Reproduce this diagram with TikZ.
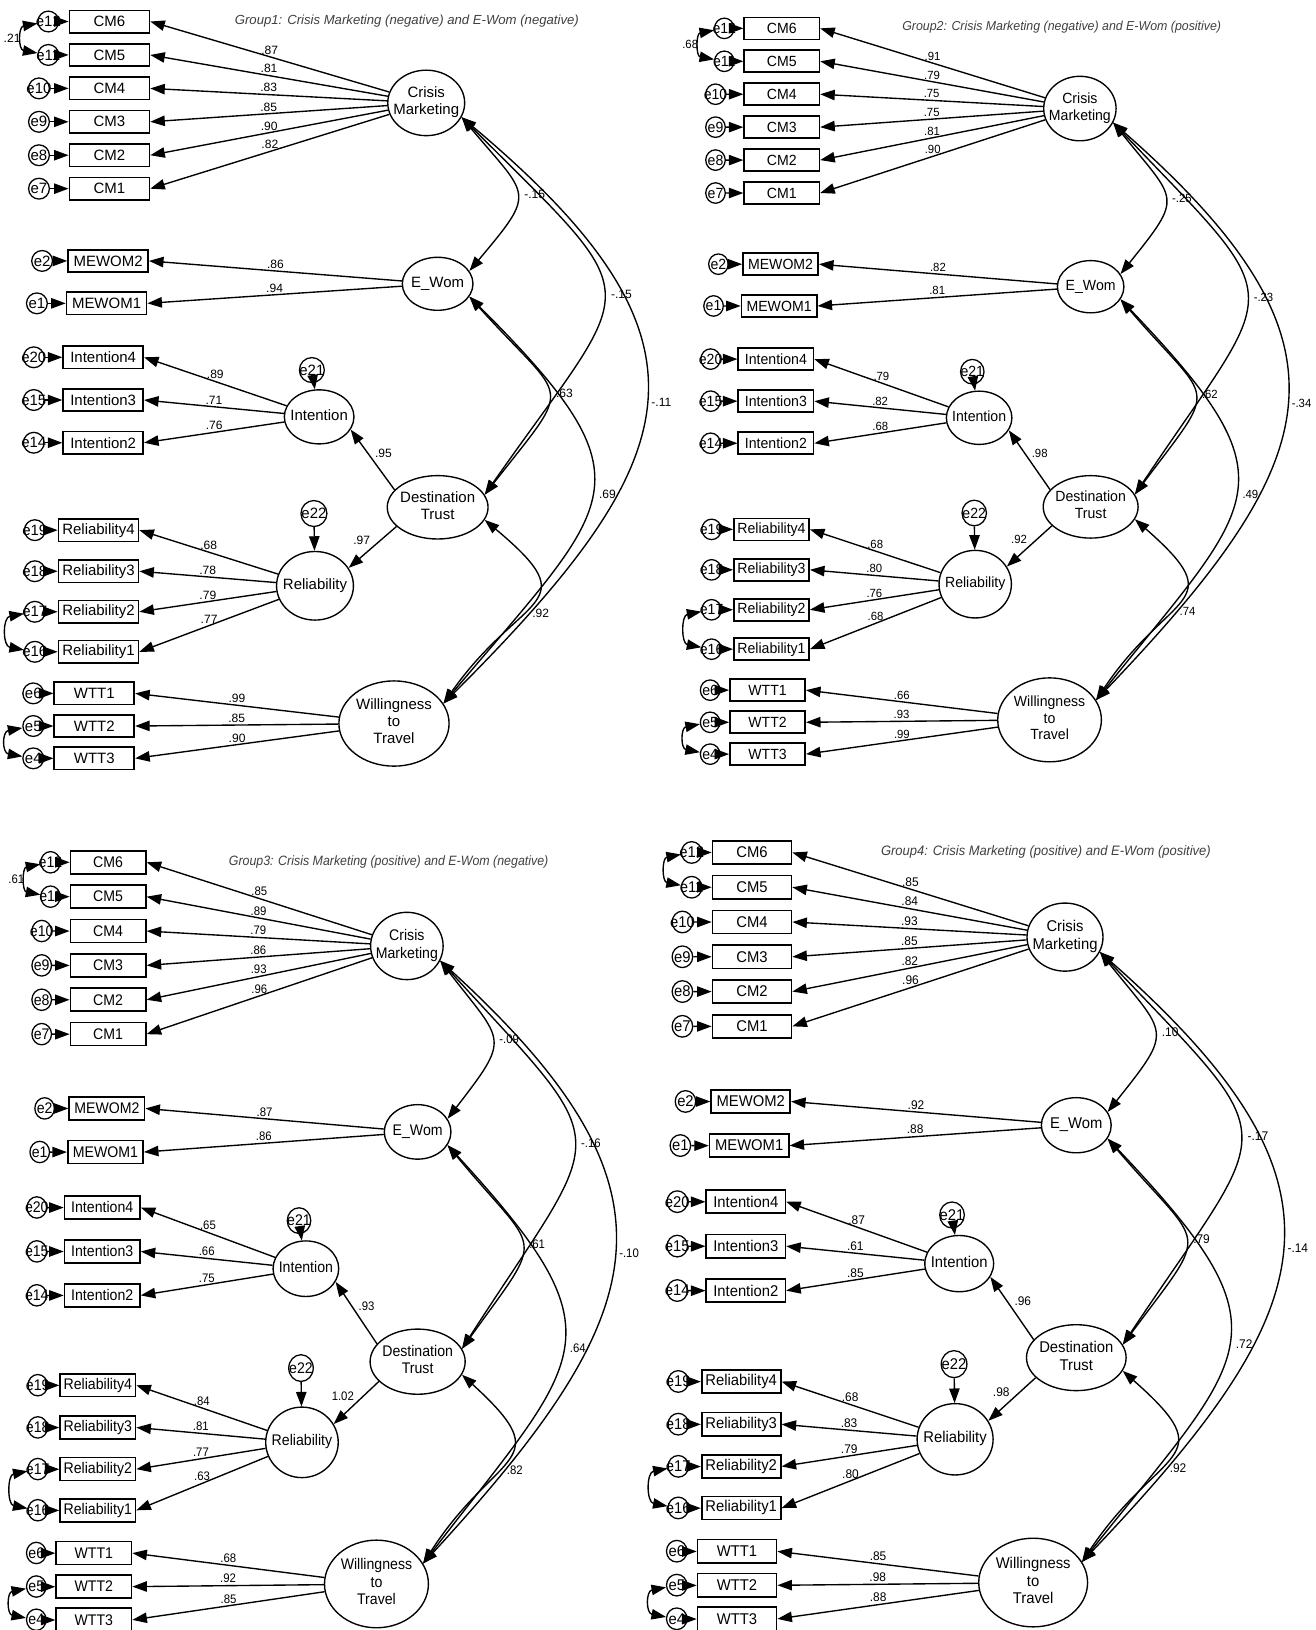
\documentclass[tikz,border=0pt]{standalone}
\usepackage{fontspec}
\setmainfont{Liberation Sans}
\usetikzlibrary{calc}
\usetikzlibrary{arrows.meta}
\usetikzlibrary{shapes.geometric}

\tikzset{
  obs/.style={draw, rectangle, line width=.9pt, minimum width=1.54cm, minimum height=.43cm, inner sep=1pt, font=\fontsize{8.2}{9.3}\selectfont},
  lat/.style={draw, ellipse, line width=.75pt, inner sep=0pt, font=\fontsize{8.2}{9.3}\selectfont},
  err/.style={draw, circle, line width=.7pt, inner sep=0pt, minimum size=.4cm, font=\fontsize{8.2}{9.3}\selectfont},
  coef/.style={font=\fontsize{6.6}{7.5}\selectfont, inner sep=1pt},
  ttl/.style={font=\fontsize{7.2}{8.5}\selectfont\itshape, text=black!75},
}
\newcommand{\latxt}[1]{\makebox[0pt]{\begin{tabular}{@{}c@{}}#1\end{tabular}}}
\newcommand{\etxt}[1]{\makebox[0pt]{#1}}

% one group: #1 placement, #2 title, #3-#7 loadings, #8 paths/error cov, #9 covariances
\newcommand{\semgroup}[9]{%
\begin{scope}[#1, transform shape]
\node[ttl] (title) at (391.4,-20) {#2};
\node[lat, minimum width=1.48cm, minimum height=1.26cm] (cm) at (410,-99) {\latxt{Crisis\\Marketing}};
\node[lat, minimum width=1.36cm, minimum height=1.02cm] (ew) at (421,-273) {\latxt{E\_Wom}};
\node[lat, minimum width=1.34cm, minimum height=1.04cm] (int) at (307,-401) {\latxt{Intention}};
\node[lat, minimum width=1.94cm, minimum height=1.22cm] (dt) at (421,-488) {\latxt{Destination\\Trust}};
\node[lat, minimum width=1.48cm, minimum height=1.32cm] (rel) at (303,-563.5) {\latxt{Reliability}};
\node[lat, minimum width=2.12cm, minimum height=1.64cm] (wtt) at (379,-696) {\latxt{Willingness\\to\\Travel}};
\node[err, minimum size=.48cm] (e21) at (300,-356) {\etxt{e21}};
\node[err, minimum size=.5cm] (e22) at (302,-494) {\etxt{e22}};

\foreach \n [count=\k from 0, evaluate=\n as \e using int(\n+6)] in {6,5,4,3,2,1} {
  \node[obs] (cm\n) at (105.25,{-20.7-32.16*\k}) {CM\n};
  \node[err] (ecm\n) at ({\n>4 ? 46.5 : 37.5},{-20.7-32.16*\k}) {\etxt{e\e}};
  \draw[->] (ecm\n) -- (cm\n);
}
\foreach \n/\x/\y/\ex in {2/104/251/40.5, 1/102.5/291.8/35.5} {
  \node[obs] (mw\n) at (\x,-\y) {MEWOM\n};
  \node[err] (emw\n) at (\ex,-\y) {\etxt{e\n}};
  \draw[->] (emw\n) -- (mw\n);
}
\foreach \n/\y/\e in {4/343.7/20, 3/384.8/15, 2/425.9/14} {
  \node[obs] (in\n) at (99.25,-\y) {Intention\n};
  \node[err] (ein\n) at (32.5,-\y) {\etxt{e\e}};
  \draw[->] (ein\n) -- (in\n);
}
\foreach \n/\y [evaluate=\n as \e using int(\n+15)] in {4/510, 3/549.5, 2/588.5, 1/627} {
  \node[obs] (re\n) at (94.75,-\y) {Reliability\n};
  \node[err] (ere\n) at (33.5,-\y) {\etxt{e\e}};
  \draw[->] (ere\n) -- (re\n);
}
\foreach \n/\y [evaluate=\n as \e using int(7-\n)] in {1/667, 2/698.4, 3/729.5} {
  \node[obs] (wt\n) at (90.7,-\y) {WTT\n};
  \node[err] (ewt\n) at (32,-\y) {\etxt{e\e}};
  \draw[->] (ewt\n) -- (wt\n);
}

\foreach \v [count=\k] in {#3} {\pgfmathtruncatemacro\n{7-\k}\draw[->] (cm) -- (cm\n.east) node[coef, midway, above] {\v};}
\foreach \v [count=\k] in {#4} {\pgfmathtruncatemacro\n{3-\k}\draw[->] (ew) -- (mw\n.east) node[coef, midway, above] {\v};}
\foreach \v [count=\k] in {#5} {\pgfmathtruncatemacro\n{5-\k}\draw[->] (int) -- (in\n.east) node[coef, midway, above] {\v};}
\foreach \v [count=\k] in {#6} {\pgfmathtruncatemacro\n{5-\k}\draw[->] (rel) -- (re\n.east) node[coef, midway, above] {\v};}
\foreach \v [count=\k] in {#7} {\draw[->] (wtt) -- (wt\k.east) node[coef, midway, above] {\v};}

\draw[->] (e21) -- (int);
\draw[->] (e22) -- (rel);
\foreach \pa/\pb/\pc in {#8} {
  \draw[->] (dt.158) -- (int.-22) node[coef, midway, above right] {\pa};
  \draw[->] (dt.205) -- (rel.28) node[coef, midway, above left] {\pb};
  \draw[<->] (ecm6) to[out=190, in=170, looseness=1.7] node[coef, left=0pt] {\pc} (ecm5);
}
\draw[<->] (ere2) to[out=190, in=170, looseness=1.55] (ere1);
\draw[<->] (ewt2) to[out=190, in=170, looseness=1.87] (ewt3);

\foreach \ca/\cb/\cc/\cd/\ce/\cf in {#9} {
  \draw[<->] (cm.-22) to[out=-50, in=50, looseness=1.75] node[coef, right=3pt] {\ca} (ew.22);
  \draw[<->] (cm.-22) to[out=-45, in=55, looseness=1.83] node[coef, right=3pt] {\cb} (dt.15);
  \draw[<->] (cm.-22) to[out=-40, in=45, looseness=1.52] node[coef, right=2pt] {\cc} (wtt.22);
  \draw[<->] (ew.-22) to[out=-48, in=52, looseness=1.9] node[coef, right=3pt] {\cd} (dt.15);
  \draw[<->] (ew.-22) to[out=-45, in=50, looseness=1.67] node[coef, right=3pt] {\ce} (wtt.22);
  \draw[<->] (dt.-15) to[out=-40, in=55, looseness=1.85] node[coef, right=3pt, pos=.58] {\cf} (wtt.22);
}
\end{scope}}

\begin{document}
\begin{tikzpicture}[x=.02cm, y=.02cm, >={Triangle[length=2.8mm,width=2mm]}, line width=.75pt]
\useasboundingbox (0,0) rectangle (1265,-1568);
\fill[white] (0,0) rectangle (1265,-1568);

\semgroup{shift={(0,0)}}{Group1: Crisis Marketing (negative) and E-Wom (negative)}
  {.87,.81,.83,.85,.90,.82}{.86,.94}{.89,.71,.76}{.68,.78,.79,.77}{.99,.85,.90}
  {.95/.97/.21}{-.15/-.15/-.11/.63/.69/.92}

\semgroup{shift={(653,-6.9)}, xscale=.941, yscale=.985}{Group2: Crisis Marketing (negative) and E-Wom (positive)}
  {.91,.79,.75,.75,.81,.90}{.82,.81}{.79,.82,.68}{.68,.80,.76,.68}{.66,.93,.99}
  {.98/.92/.68}{-.25/-.23/-.34/.62/.49/.74}

\semgroup{shift={(4.75,-808.2)}, xscale=.943, yscale=1.028}{Group3: Crisis Marketing (positive) and E-Wom (negative)}
  {.85,.89,.79,.86,.93,.96}{.87,.86}{.65,.66,.75}{.84,.81,.77,.63}{.68,.92,.85}
  {.93/1.02/.61}{-.09/-.16/-.10/.61/.64/.82}

\semgroup{shift={(619.4,-798.5)}, xscale=.988, yscale=1.04}{Group4: Crisis Marketing (positive) and E-Wom (positive)}
  {.85,.84,.93,.85,.82,.96}{.92,.88}{.87,.61,.85}{.68,.83,.79,.80}{.85,.98,.88}
  {.96/.98/{}}{.10/-.17/-.14/.79/.72/.92}
\end{tikzpicture}
\end{document}
